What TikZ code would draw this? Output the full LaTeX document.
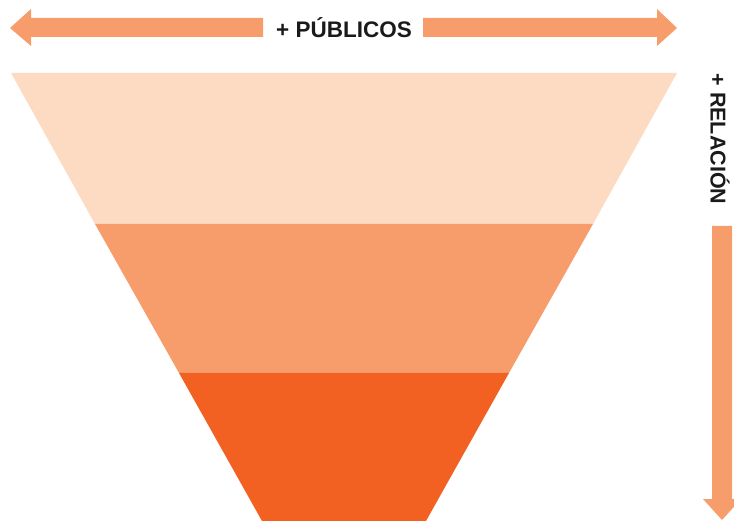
\documentclass[tikz,border=0pt]{standalone}
\usepackage{fontspec}
\setmainfont{Liberation Sans}
\definecolor{bandA}{HTML}{FDDBC3}
\definecolor{bandB}{HTML}{F79D6B}
\definecolor{bandC}{HTML}{F26022}
\definecolor{arr}{HTML}{F79D6B}
\definecolor{txt}{HTML}{1A1A1A}
\begin{document}
\begin{tikzpicture}[x=1pt,y=-1pt,
  lbl/.style={font=\bfseries\fontsize{22.5}{22.5}\selectfont, text=txt, inner sep=0pt}]
\useasboundingbox (0,0) rectangle (734,521);
\clip (0,0) rectangle (734,521);
% funnel
\fill[bandA] (11,73) -- (677,73) -- (593,224) -- (95,224) -- cycle;
\fill[bandB] (95,224) -- (593,224) -- (509,373) -- (179,373) -- cycle;
\fill[bandC] (179,373) -- (509,373) -- (426,521) -- (262,521) -- cycle;
% top arrows
\fill[arr] (10,28) -- (31,9) -- (31,18) -- (263,18) -- (263,37) -- (31,37) -- (31,46) -- cycle;
\fill[arr] (677,28) -- (657,9) -- (657,18) -- (423,18) -- (423,37) -- (657,37) -- (657,46) -- cycle;
\node[lbl] (pub) at (344,28) {+ PÚBLICOS};
% right arrow
\fill[arr] (722,520) -- (703,499) -- (712,499) -- (712,226) -- (732,226) -- (732,499) -- (741,499) -- cycle;
\node[lbl, font=\bfseries\fontsize{21.5}{21.5}\selectfont, rotate=-90] (rel) at (720,139) {+ RELACIÓN};
\end{tikzpicture}
\end{document}
